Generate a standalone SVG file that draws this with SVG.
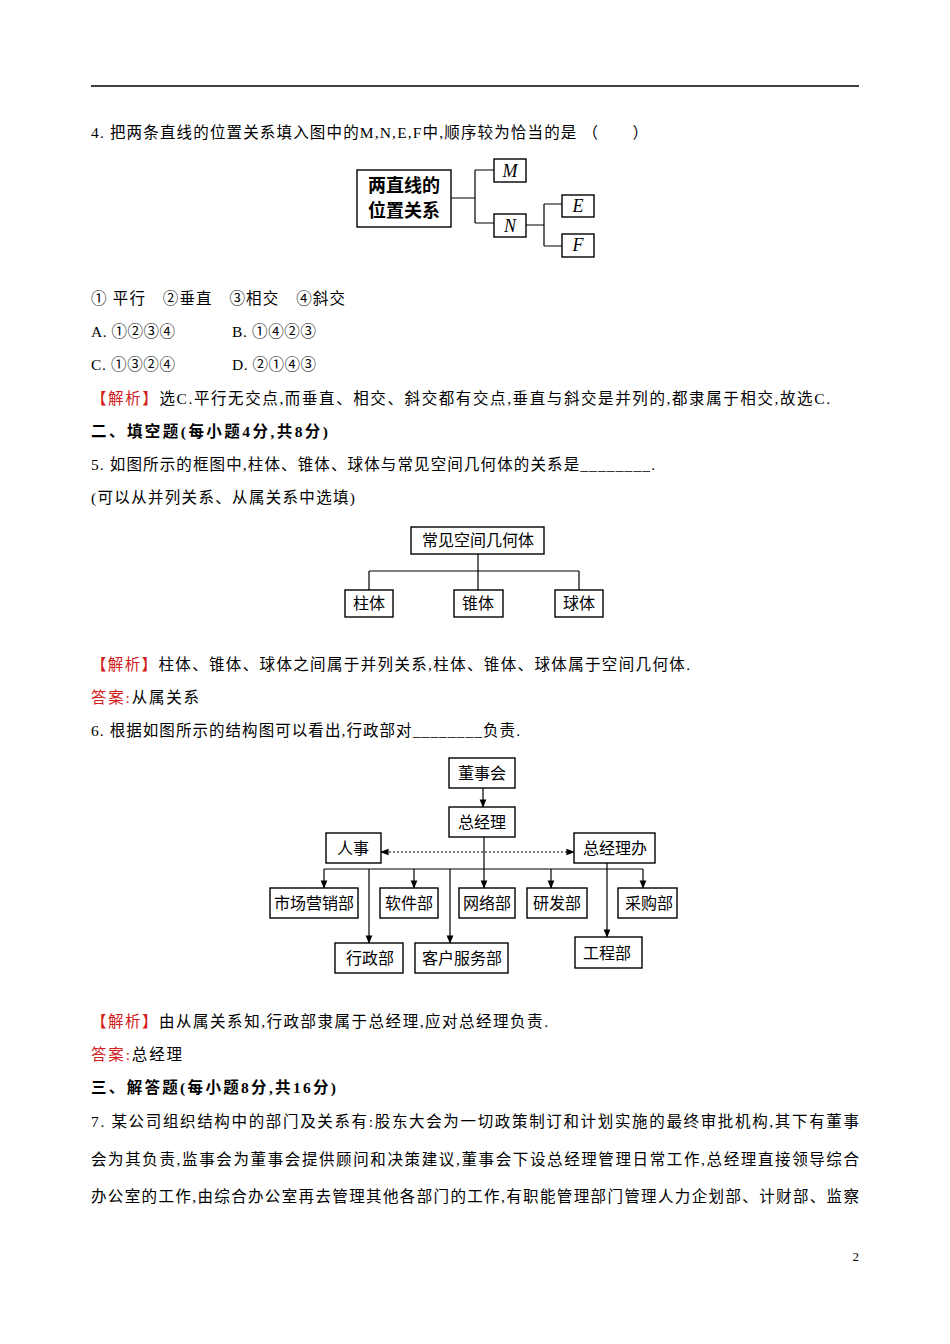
<svg xmlns="http://www.w3.org/2000/svg" width="950" height="1344" viewBox="0 0 950 1344">
<defs>
<style>
text{font-family:"Liberation Serif","Noto Sans CJK SC",serif;font-size:15.5px;fill:#000}
.b{font-weight:bold}
.r{fill:#d02020}
.n{font-family:"Noto Sans CJK SC",sans-serif;font-size:16px;text-anchor:middle}
.nb{font-family:"Noto Sans CJK SC",sans-serif;font-size:18px;font-weight:bold;text-anchor:middle}
.i{font-family:"Liberation Serif",serif;font-style:italic;font-size:18px;text-anchor:middle}
rect{fill:#fff;stroke:#000;stroke-width:1.4}
.c line,.c path{stroke:#000;stroke-width:1.2;fill:none}
</style>
<marker id="a" viewBox="0 0 10 10" refX="9" refY="5" markerWidth="7" markerHeight="7" orient="auto-start-reverse"><path d="M0,1L10,5L0,9z" fill="#000"/></marker>
</defs>
<rect x="0" y="0" width="950" height="1344" style="stroke:none"/>
<line x1="91" y1="86" x2="859" y2="86" stroke="#000" stroke-width="1.3"/>

<text x="91" y="138" textLength="557" lengthAdjust="spacing">4. 把两条直线的位置关系填入图中的M,N,E,F中,顺序较为恰当的是 （　　）</text>
<g class="c">
<path d="M451,198H475M475,170V223M475,170H494M475,223H494M526,225H544M544,204V246M544,204H562M544,246H562"/>
</g>
<g id="d1main"><rect x="357" y="170" width="94" height="57"/><text class="nb" x="404" y="192">两直线的</text><text class="nb" x="404" y="217">位置关系</text></g>
<g id="d1M"><rect x="494" y="159" width="32" height="23"/><text class="i" x="510" y="177">M</text></g>
<g id="d1N"><rect x="494" y="214" width="32" height="23"/><text class="i" x="510" y="232">N</text></g>
<g id="d1E"><rect x="562" y="195" width="32" height="22"/><text class="i" x="578" y="212">E</text></g>
<g id="d1F"><rect x="562" y="234" width="32" height="23"/><text class="i" x="578" y="251">F</text></g>

<text x="91" y="304" textLength="254" lengthAdjust="spacing">① 平行　②垂直　③相交　④斜交</text>
<text x="91" y="337" textLength="84" lengthAdjust="spacing">A. ①②③④</text><text x="232" y="337" textLength="84" lengthAdjust="spacing">B. ①④②③</text>
<text x="91" y="370" textLength="84" lengthAdjust="spacing">C. ①③②④</text><text x="232" y="370" textLength="84" lengthAdjust="spacing">D. ②①④③</text>
<text x="91" y="404" textLength="739" lengthAdjust="spacing"><tspan class="r">【解析】</tspan>选C.平行无交点,而垂直、相交、斜交都有交点,垂直与斜交是并列的,都隶属于相交,故选C.</text>
<text x="91" y="437" class="b" textLength="237" lengthAdjust="spacing">二、填空题(每小题4分,共8分)</text>
<text x="91" y="470" textLength="564" lengthAdjust="spacing">5. 如图所示的框图中,柱体、锥体、球体与常见空间几何体的关系是________.</text>
<text x="91" y="503" textLength="264" lengthAdjust="spacing">(可以从并列关系、从属关系中选填)</text>

<g class="c"><path d="M478,554V571M369,571H579M369,571V590M478,571V590M579,571V590"/></g>
<g id="d2top"><rect x="411" y="527" width="133" height="27"/><text class="n" x="478" y="546">常见空间几何体</text></g>
<g id="d2a"><rect x="345" y="590" width="48" height="27"/><text class="n" x="369" y="609">柱体</text></g>
<g id="d2b"><rect x="454" y="590" width="49" height="27"/><text class="n" x="478" y="609">锥体</text></g>
<g id="d2c"><rect x="555" y="590" width="48" height="27"/><text class="n" x="579" y="609">球体</text></g>

<text x="91" y="670" textLength="599" lengthAdjust="spacing"><tspan class="r">【解析】</tspan>柱体、锥体、球体之间属于并列关系,柱体、锥体、球体属于空间几何体.</text>
<text x="91" y="703" textLength="108" lengthAdjust="spacing"><tspan class="r">答案:</tspan>从属关系</text>
<text x="91" y="736" textLength="429" lengthAdjust="spacing">6. 根据如图所示的结构图可以看出,行政部对________负责.</text>

<g class="c">
<line x1="483" y1="788" x2="483" y2="807" marker-end="url(#a)"/>
<line x1="381" y1="852" x2="574" y2="852" stroke-dasharray="2,2" marker-start="url(#a)" marker-end="url(#a)"/>
<line x1="484" y1="837" x2="484" y2="888" marker-end="url(#a)"/>
<line x1="324" y1="869" x2="643" y2="869"/>
<line x1="324" y1="869" x2="324" y2="888" marker-end="url(#a)"/>
<line x1="369" y1="869" x2="369" y2="943" marker-end="url(#a)"/>
<line x1="414" y1="869" x2="414" y2="888" marker-end="url(#a)"/>
<line x1="450" y1="869" x2="450" y2="943" marker-end="url(#a)"/>
<line x1="551" y1="869" x2="551" y2="888" marker-end="url(#a)"/>
<line x1="607" y1="863" x2="607" y2="937" marker-end="url(#a)"/>
<line x1="643" y1="869" x2="643" y2="888" marker-end="url(#a)"/>
</g>
<g id="dsh"><rect x="449" y="758" width="66" height="30"/><text class="n" x="482" y="779">董事会</text></g>
<g id="zjl"><rect x="449" y="807" width="66" height="30"/><text class="n" x="482" y="828">总经理</text></g>
<g id="rs"><rect x="326" y="833" width="55" height="30"/><text class="n" x="353" y="854">人事</text></g>
<g id="zjlb"><rect x="574" y="833" width="81" height="30"/><text class="n" x="615" y="854">总经理办</text></g>
<g id="scyx"><rect x="270" y="888" width="88" height="30"/><text class="n" x="314" y="909">市场营销部</text></g>
<g id="rj"><rect x="380" y="888" width="58" height="30"/><text class="n" x="409" y="909">软件部</text></g>
<g id="wl"><rect x="459" y="888" width="56" height="30"/><text class="n" x="487" y="909">网络部</text></g>
<g id="yf"><rect x="527" y="888" width="60" height="30"/><text class="n" x="557" y="909">研发部</text></g>
<g id="cg"><rect x="618" y="888" width="59" height="30"/><text class="n" x="649" y="909">采购部</text></g>
<g id="xz"><rect x="335" y="943" width="68" height="30"/><text class="n" x="370" y="964">行政部</text></g>
<g id="kh"><rect x="415" y="943" width="93" height="30"/><text class="n" x="462" y="964">客户服务部</text></g>
<g id="gc"><rect x="575" y="937" width="67" height="31"/><text class="n" x="607" y="959">工程部</text></g>

<text x="91" y="1027" textLength="457" lengthAdjust="spacing"><tspan class="r">【解析】</tspan>由从属关系知,行政部隶属于总经理,应对总经理负责.</text>
<text x="91" y="1060" textLength="91" lengthAdjust="spacing"><tspan class="r">答案:</tspan>总经理</text>
<text x="91" y="1093" class="b" textLength="245" lengthAdjust="spacing">三、解答题(每小题8分,共16分)</text>
<text x="91" y="1127" textLength="768" lengthAdjust="spacing">7. 某公司组织结构中的部门及关系有:股东大会为一切政策制订和计划实施的最终审批机构,其下有董事</text>
<text x="91" y="1165" textLength="768" lengthAdjust="spacing">会为其负责,监事会为董事会提供顾问和决策建议,董事会下设总经理管理日常工作,总经理直接领导综合</text>
<text x="91" y="1202" textLength="768" lengthAdjust="spacing">办公室的工作,由综合办公室再去管理其他各部门的工作,有职能管理部门管理人力企划部、计财部、监察</text>
<text x="859" y="1261" text-anchor="end" style="font-size:13px">2</text>
</svg>
